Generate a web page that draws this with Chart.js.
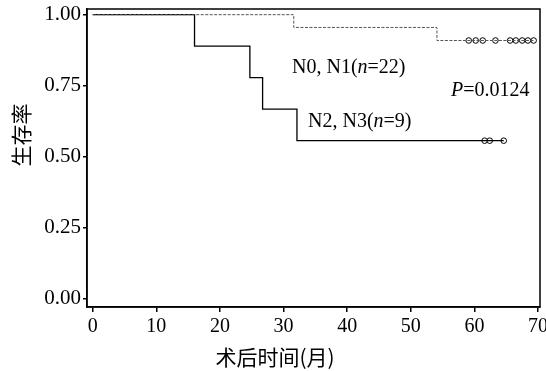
<!DOCTYPE html>
<html>
<head>
<meta charset="utf-8">
<script src="https://cdn.jsdelivr.net/npm/chart.js@4"></script>
<style>
  html, body { margin: 0; padding: 0; background: #fff; }
  #wrap { width: 546px; height: 371px; }
</style>
</head>
<body>
<div id="wrap"><canvas id="km"></canvas></div>
<script>
// survival curves
const lowTimes = [0, 31.6, 54.1, 69.3];
const lowSurv = [1, 0.955, 0.909, 0.909];
const lowCensor = [59.1, 60.2, 61.3, 63.3, 65.6, 66.5, 67.5, 68.4, 69.3];

const highTimes = [0, 16, 24.7, 26.7, 32.1, 64.6];
const highSurv = [1, 0.889, 0.778, 0.667, 0.556, 0.556];
const highCensor = [61.6, 62.4, 64.6];

const xTicks = [0, 10, 20, 30, 40, 50, 60, 70];
const yTicks = [0, 0.25, 0.5, 0.75, 1];
const yTickLabels = ["0.00", "0.25", "0.50", "0.75", "1.00"];

const toPts = (xs, ys) => xs.map((x, i) => ({ x: x, y: ys[i] }));
const censorPts = (xs, level) => xs.map((x) => ({ x: x, y: level }));

const serif = "'Liberation Serif', 'DejaVu Serif', serif";
const cjk = "'Noto Sans CJK SC', sans-serif";

const extras = {
  id: "extras",
  afterDraw(chart) {
    const { ctx, chartArea } = chart;
    ctx.save();
    // frame
    ctx.strokeStyle = "#000";
    ctx.lineWidth = 1.5;
    ctx.strokeRect(chartArea.left, chartArea.top, chartArea.right - chartArea.left, chartArea.bottom - chartArea.top);

    ctx.fillStyle = "#000";
    ctx.textBaseline = "middle";
    ctx.textAlign = "left";

    // group labels
    const label = (x, y, parts) => {
      let cx = x;
      parts.forEach((p) => {
        ctx.font = (p[1] ? "italic " : "") + "20px " + serif;
        ctx.fillText(p[0], cx, y);
        cx += ctx.measureText(p[0]).width;
      });
    };
    label(292, 68, [["N0, N1(", false], ["n", true], ["=22)", false]]);
    label(451, 91, [["P", true], ["=0.0124", false]]);
    label(308, 122, [["N2, N3(", false], ["n", true], ["=9)", false]]);

    // axis titles
    ctx.font = "21px " + cjk;
    ctx.textAlign = "center";
    ctx.fillText("术后时间(月)", 275, 357);
    ctx.translate(21, 135);
    ctx.rotate(-Math.PI / 2);
    ctx.fillText("生存率", 0, 0);
    ctx.restore();
  },
};

new Chart(document.getElementById("km"), {
  type: "scatter",
  data: {
    datasets: [
      {
        label: "N0, N1",
        data: toPts(lowTimes, lowSurv),
        showLine: true,
        stepped: "before",
        borderColor: "#555",
        borderWidth: 1,
        borderDash: [3, 1.5],
        pointRadius: 0,
      },
      {
        label: "N2, N3",
        data: toPts(highTimes, highSurv),
        showLine: true,
        stepped: "before",
        borderColor: "#000",
        borderWidth: 1.3,
        pointRadius: 0,
      },
      {
        label: "censor low",
        data: censorPts(lowCensor, lowSurv[lowSurv.length - 1]),
        showLine: false,
        pointStyle: "circle",
        pointRadius: 2.8,
        borderColor: "#000",
        borderWidth: 1,
        backgroundColor: "#fff",
      },
      {
        label: "censor high",
        data: censorPts(highCensor, highSurv[highSurv.length - 1]),
        showLine: false,
        pointStyle: "circle",
        pointRadius: 2.8,
        borderColor: "#000",
        borderWidth: 1,
        backgroundColor: "#fff",
      },
    ],
  },
  options: {
    responsive: true,
    maintainAspectRatio: false,
    animation: false,
    layout: { padding: { left: 0, right: 6, top: 9, bottom: 0 } },
    scales: {
      x: {
        type: "linear",
        min: -0.9,
        max: 70.3,
        afterBuildTicks: (scale) => {
          scale.ticks = xTicks.map((v) => ({ value: v }));
        },
        afterFit: (scale) => {
          scale.height = 64;
          scale.paddingLeft = 0;
          scale.paddingRight = 0;
        },
        grid: { drawOnChartArea: false, drawTicks: true, tickLength: 5, color: "#000", lineWidth: 1.5 },
        border: { display: true, color: "#000", width: 1.5 },
        ticks: {
          padding: 3,
          color: "#000",
          font: { family: serif, size: 20 },
          maxRotation: 0,
        },
      },
      y: {
        min: -0.03,
        max: 1.02,
        afterBuildTicks: (scale) => {
          scale.ticks = yTicks.map((v) => ({ value: v }));
        },
        afterFit: (scale) => {
          scale.width = 87;
          scale.paddingTop = 0;
          scale.paddingBottom = 0;
        },
        grid: { drawOnChartArea: false, drawTicks: true, tickLength: 4, color: "#000", lineWidth: 1.5 },
        border: { display: true, color: "#000", width: 1.5 },
        ticks: {
          padding: 2,
          color: "#000",
          font: { family: serif, size: 21 },
          callback: (value) => yTickLabels[yTicks.indexOf(value)],
        },
      },
    },
    plugins: {
      legend: { display: false },
      tooltip: { enabled: false },
    },
  },
  plugins: [extras],
});
</script>
</body>
</html>
